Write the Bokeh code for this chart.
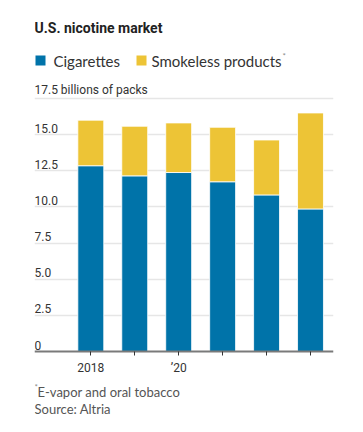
from bokeh.plotting import figure
from bokeh.models import (ColumnDataSource, Range1d, FixedTicker, Label, LabelSet,
                          BoxAnnotation)
from bokeh.core.properties import value
from bokeh.embed import file_html
from bokeh.resources import INLINE

# ---- data ----
years = [2018, 2019, 2020, 2021, 2022, 2023]
year_labels = ["2018", "", "\u201920", "", "", ""]
cigarettes = [12.85, 12.15, 12.38, 11.74, 10.83, 9.86]
smokeless = [3.15, 3.43, 3.43, 3.77, 3.80, 6.64]
y_ticks = [0, 2.5, 5.0, 7.5, 10.0, 12.5, 15.0, 17.5]
y_tick_labels = ["0", "2.5", "5.0", "7.5", "10.0", "12.5", "15.0", "17.5 billions of packs"]

BLUE = "#0073A9"
YELLOW = "#EDC436"
TICKF = "Roboto"
SANS = "Lato"
BOLD = "Roboto"
SHIFT = 5  # empirical correction for the alphabetic baseline placement

# geometry (px in the canvas)
W, H = 347, 416
FR_L, FR_R = 34, 333
Y_BOT = 351              # px of value 0
PXU = (351 - 98) / 17.5  # px per unit
C0, STEP = 90.3, 43.94   # px of first bar centre, px between bars

XS = years[0] - (C0 - FR_L) / STEP
XE = years[0] + (FR_R - C0) / STEP
YS = -(H - Y_BOT) / PXU
YE = Y_BOT / PXU


def dx(px):
    return XS + (px - FR_L) / STEP


def dy(py):
    return (Y_BOT - py) / PXU


def by(py):
    # baseline position in px -> data, with correction
    return dy(py - SHIFT)


p = figure(width=W, height=H, output_backend="svg", toolbar_location=None,
           x_range=Range1d(XS, XE), y_range=Range1d(YS, YE),
           y_axis_location=None, title_location=None,
           min_border_left=FR_L, min_border_right=W - FR_R,
           min_border_top=0, min_border_bottom=0)
p.outline_line_color = None
p.background_fill_color = "white"

# grid
p.xgrid.visible = False
p.ygrid.ticker = FixedTicker(ticks=y_ticks[1:])
p.ygrid.grid_line_color = "#e6e6e6"
p.ygrid.grid_line_width = 1.5

# bars
src = ColumnDataSource(dict(year=years, cig=cigarettes, smk=smokeless))
p.vbar_stack(["cig", "smk"], x="year", width=0.59, color=[BLUE, YELLOW],
             line_color="white", line_width=0.8, source=src)

# x axis, pinned at zero
ax = p.xaxis[0]
ax.fixed_location = 0
ax.ticker = FixedTicker(ticks=years)
ax.major_label_overrides = {y: l for y, l in zip(years, year_labels)}
ax.axis_line_color = "#7a7a7a"
ax.axis_line_width = 2
ax.major_tick_line_color = "#333333"
ax.major_tick_out = 4
ax.major_tick_in = 0
ax.minor_tick_line_color = None
ax.major_label_text_font = TICKF
ax.major_label_text_font_size = "12px"
ax.major_label_text_color = "#333333"
ax.major_label_standoff = 5

# y tick labels (inside the plot, above gridlines)
ysrc = ColumnDataSource(dict(x=[XS] * len(y_ticks), y=y_ticks, t=y_tick_labels))
p.add_layout(LabelSet(x="x", y="y", text="t", source=ysrc, text_align="left",
                      text_baseline="bottom", y_offset=2, text_font=value(TICKF),
                      text_font_size=value("12px"), text_color="#333333"))

# title
p.add_layout(Label(x=dx(34), y=by(32.7), text="U.S. nicotine market",
                   text_font=BOLD, text_font_style="bold", text_font_size="14px",
                   text_baseline="alphabetic", text_align="left", text_color="#222222"))

# legend
p.add_layout(BoxAnnotation(left=dx(35), right=dx(45), top=dy(55), bottom=dy(65),
                           fill_color=BLUE, fill_alpha=1, line_color=None))
p.add_layout(Label(x=dx(53), y=by(65.5), text="Cigarettes", text_font=SANS,
                   text_font_size="15px", text_baseline="alphabetic", text_color="#333333"))
p.add_layout(BoxAnnotation(left=dx(136), right=dx(146), top=dy(55), bottom=dy(65),
                           fill_color=YELLOW, fill_alpha=1, line_color=None))
p.add_layout(Label(x=dx(151), y=by(65.5), text="Smokeless products", text_font=SANS,
                   text_font_size="15px", text_baseline="alphabetic", text_color="#333333"))
p.add_layout(Label(x=dx(282), y=by(60), text="*", text_font=SANS,
                   text_font_size="8px", text_baseline="alphabetic", text_color="#888888"))

# footnotes
p.add_layout(Label(x=dx(34), y=by(391), text="*", text_font=SANS,
                   text_font_size="8px", text_baseline="alphabetic", text_color="#888888"))
p.add_layout(Label(x=dx(37), y=by(396), text="E-vapor and oral tobacco", text_font=SANS,
                   text_font_size="13px", text_baseline="alphabetic", text_color="#555555"))
p.add_layout(Label(x=dx(34), y=by(413), text="Source: Altria", text_font=SANS,
                   text_font_size="13px", text_baseline="alphabetic", text_color="#555555"))

open("out.html", "w").write(file_html(p, INLINE))
